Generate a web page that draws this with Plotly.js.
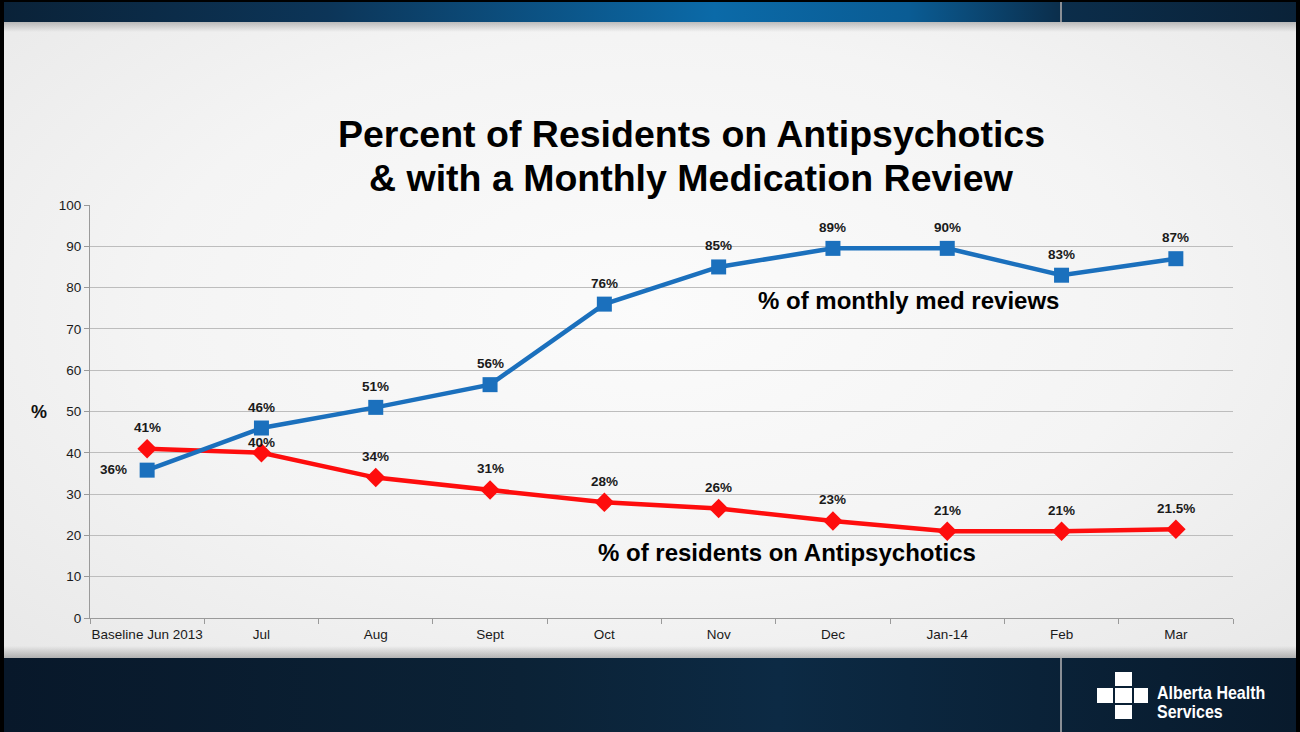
<!DOCTYPE html>
<html>
<head>
<meta charset="utf-8">
<script src="https://cdn.plot.ly/plotly-3.0.1.min.js"></script>
<style>
  html, body { margin: 0; padding: 0; width: 1300px; height: 732px; overflow: hidden; background: #000; }
  #slide { position: absolute; left: 0; top: 0; width: 1300px; height: 732px; }
  #topband { position: absolute; left: 4px; top: 2px; width: 1292px; height: 20px;
    background: linear-gradient(90deg, #0a2238 0%, #0c3558 25%, #0b6aa8 55%, #0a5c94 70%, #0b2d4a 82%, #0a2238 100%); }
  #body { position: absolute; left: 4px; top: 22px; width: 1292px; height: 636px;
    background: radial-gradient(ellipse at 50% 45%, #fbfbfb 0%, #f4f4f4 55%, #e8e8e8 100%); }
  #shadowtop { position: absolute; left: 4px; top: 22px; width: 1292px; height: 10px;
    background: linear-gradient(180deg, rgba(120,120,120,0.45), rgba(200,200,200,0)); }
  #shadowbot { position: absolute; left: 4px; top: 646px; width: 1292px; height: 12px;
    background: linear-gradient(0deg, rgba(120,120,120,0.5), rgba(200,200,200,0)); }
  #botband { position: absolute; left: 4px; top: 658px; width: 1292px; height: 74px;
    background: linear-gradient(90deg, #08182a 0%, #0b2236 40%, #0c2a44 60%, #081a2c 100%); }
  .vline { position: absolute; left: 1060px; width: 2px; background: #8a8f96; }
  #plot { position: absolute; left: 0; top: 0; width: 1300px; height: 732px; }
  .cross { position: absolute; background: #fff; }
  .logotext { position: absolute; left: 1157px; color: #fff;
    font-family: "Liberation Sans", sans-serif; white-space: nowrap;
    font-weight: bold; font-size: 19px; line-height: 18px; height: 18px;
    transform: scaleX(0.84); transform-origin: left top; }
</style>
</head>
<body>
<div id="slide">
  <div id="topband"></div>
  <div class="vline" style="top:2px;height:20px;"></div>
  <div id="body"></div>
  <div id="shadowtop"></div>
  <div id="shadowbot"></div>
  <div id="botband"></div>
  <div class="vline" style="top:658px;height:74px;"></div>
  <div class="cross" style="left:1115px;top:672px;width:17px;height:14px;"></div>
  <div class="cross" style="left:1097px;top:688px;width:16px;height:15px;"></div>
  <div class="cross" style="left:1115px;top:688px;width:17px;height:15px;"></div>
  <div class="cross" style="left:1134px;top:688px;width:14px;height:15px;"></div>
  <div class="cross" style="left:1115px;top:705px;width:17px;height:14px;"></div>
  <div class="logotext" style="top:684px;">Alberta Health</div>
  <div class="logotext" style="top:703px;">Services</div>
</div>
<div id="plot"></div>
<script>
// ---- data ----
var categories = ["Baseline Jun 2013", "Jul", "Aug", "Sept", "Oct", "Nov", "Dec", "Jan-14", "Feb", "Mar"];
var medReviews = [35.8, 46, 51, 56.5, 76, 85, 89.5, 89.5, 83, 87];
var medReviewLabels = ["36%", "46%", "51%", "56%", "76%", "85%", "89%", "90%", "83%", "87%"];
var antipsychotics = [41, 40, 34, 31, 28, 26.5, 23.5, 21, 21, 21.5];
var antipsychoticLabels = ["41%", "40%", "34%", "31%", "28%", "26%", "23%", "21%", "21%", "21.5%"];
var yTicks = [0, 10, 20, 30, 40, 50, 60, 70, 80, 90, 100];
var titleLines = ["Percent of Residents on Antipsychotics", "& with a Monthly Medication Review"];

var blue = "#1b70bd";
var red = "#fe0d0d";
var labelFont = {family: "Liberation Sans, Arial, sans-serif", size: 13.5, color: "#1a1a1a"};

var traces = [
  {
    x: categories, y: antipsychotics, type: "scatter", mode: "lines+markers",
    line: {color: red, width: 4.5},
    marker: {symbol: "diamond", size: 15, color: red},
    hoverinfo: "skip", showlegend: false
  },
  {
    x: categories, y: medReviews, type: "scatter", mode: "lines+markers",
    line: {color: blue, width: 4.5},
    marker: {symbol: "square", size: 15, color: blue},
    hoverinfo: "skip", showlegend: false
  }
];

var annotations = [];
medReviewLabels.forEach(function (t, i) {
  var a = {x: categories[i], y: medReviews[i], text: "<b>" + t + "</b>", showarrow: false,
           font: labelFont, xref: "x", yref: "y", yshift: 21};
  if (i === 0) { a.yshift = 1; a.xshift = -34; }
  annotations.push(a);
});
antipsychoticLabels.forEach(function (t, i) {
  var a = {x: categories[i], y: antipsychotics[i], text: "<b>" + t + "</b>", showarrow: false,
           font: labelFont, xref: "x", yref: "y", yshift: 21};
  if (i === 1) { a.yshift = 10; }
  annotations.push(a);
});

function X(px) { return (px - 90) / 1143; }
function Y(py) { return (618 - py) / 413; }

var titleY = [134, 178];
titleLines.forEach(function (t, i) {
  annotations.push({
    xref: "paper", yref: "paper", x: X(691), y: Y(titleY[i]), showarrow: false,
    text: "<b>" + t + "</b>",
    font: {family: "Liberation Sans, Arial, sans-serif", size: 37.5, color: "#000"},
    xanchor: "center", yanchor: "middle"
  });
});
annotations.push({
  xref: "paper", yref: "paper", x: X(908), y: Y(300), showarrow: false,
  text: "<b>% of monthly med reviews</b>",
  font: {family: "Liberation Sans, Arial, sans-serif", size: 24, color: "#000"},
  xanchor: "center", yanchor: "middle"
});
annotations.push({
  xref: "paper", yref: "paper", x: X(787), y: Y(552), showarrow: false,
  text: "<b>% of residents on Antipsychotics</b>",
  font: {family: "Liberation Sans, Arial, sans-serif", size: 24, color: "#000"},
  xanchor: "center", yanchor: "middle"
});
annotations.push({
  xref: "paper", yref: "paper", x: X(39), y: Y(412), showarrow: false,
  text: "<b>%</b>",
  font: {family: "Liberation Sans, Arial, sans-serif", size: 18, color: "#111"},
  xanchor: "center", yanchor: "middle"
});

var layout = {
  width: 1300, height: 732,
  margin: {l: 90, r: 67, t: 205, b: 114, pad: 0},
  paper_bgcolor: "rgba(0,0,0,0)", plot_bgcolor: "rgba(0,0,0,0)",
  font: {family: "Liberation Sans, Arial, sans-serif", size: 13, color: "#1a1a1a"},
  xaxis: {
    type: "category", tickson: "boundaries", ticks: "outside", ticklen: 5,
    tickcolor: "#9a9a9a", showline: true, linecolor: "#9a9a9a", linewidth: 1,
    showgrid: false, tickangle: 0, automargin: false, ticklabelstandoff: 4,
    tickfont: {size: 13.5, color: "#1a1a1a"}, range: [-0.5, 9.5], fixedrange: true
  },
  yaxis: {
    range: [0, 100], tickvals: yTicks, ticks: "outside", ticklen: 5,
    tickcolor: "#9a9a9a", showline: true, linecolor: "#9a9a9a", linewidth: 1,
    showgrid: true, gridcolor: "#bdbdbd", gridwidth: 1, zeroline: false,
    tickfont: {size: 13.5, color: "#1a1a1a"}, fixedrange: true, automargin: false
  },
  annotations: annotations
};

Plotly.newPlot("plot", traces, layout, {displayModeBar: false, staticPlot: true});
</script>
</body>
</html>
